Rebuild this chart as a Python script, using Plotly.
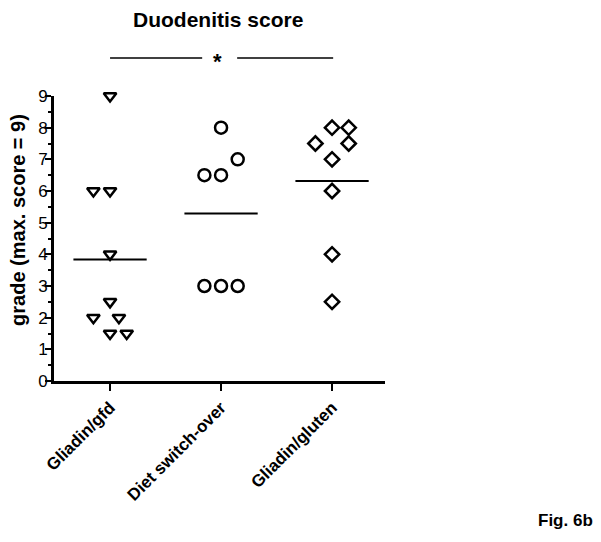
import plotly.graph_objects as go
import numpy as np

# categories and per-group scores
groups = ["Gliadin/gfd", "Diet switch-over", "Gliadin/gluten"]
gfd_scores = [9, 6, 6, 4, 2.5, 2, 2, 1.5, 1.5]
switch_scores = [8, 7, 6.5, 6.5, 3, 3, 3]
gluten_scores = [8, 8, 7.5, 7.5, 7, 6, 4, 2.5]
y_ticks = [0, 1, 2, 3, 4, 5, 6, 7, 8, 9]

# horizontal spread of stacked points (layout only, in category units)
gfd_spread = [0, -0.15, 0, 0, 0, -0.15, 0.08, 0, 0.15]
switch_spread = [0, 0.15, -0.15, 0, -0.15, 0, 0.15]
gluten_spread = [0, 0.15, -0.15, 0.15, 0, 0, 0, 0]

FONT = "Arial, Liberation Sans, sans-serif"
symbols = ["triangle-down-open", "circle-open", "diamond-open"]
sizes = [11, 12, 11]

fig = go.Figure()
all_scores = [gfd_scores, switch_scores, gluten_scores]
all_spread = [gfd_spread, switch_spread, gluten_spread]
for i, (vals, spread) in enumerate(zip(all_scores, all_spread)):
    fig.add_trace(go.Scatter(
        x=[i + s for s in spread], y=vals, mode="markers",
        marker=dict(symbol=symbols[i], size=sizes[i], color="black",
                    line=dict(color="black", width=2.5)),
        showlegend=False, cliponaxis=False))
    m = np.mean(vals)
    fig.add_trace(go.Scatter(
        x=[i - 0.33, i + 0.33], y=[m, m], mode="lines",
        line=dict(color="black", width=2), showlegend=False))

# significance bar with star
sig_y = 1.133
fig.add_shape(type="line", xref="x", yref="paper", x0=0, x1=0.83, y0=sig_y, y1=sig_y,
              line=dict(color="black", width=1.5))
fig.add_shape(type="line", xref="x", yref="paper", x0=1.145, x1=2.01, y0=sig_y, y1=sig_y,
              line=dict(color="black", width=1.5))
fig.add_annotation(x=0.97, xref="x", y=sig_y, yref="paper", text="<b>*</b>", showarrow=False,
                   xanchor="center", yanchor="middle", yshift=-3,
                   font=dict(family=FONT, size=22, color="black"))

fig.add_annotation(x=0.495, xref="paper", y=1.27, yref="paper", text="<b>Duodenitis score</b>",
                   showarrow=False, xanchor="center", yanchor="middle",
                   font=dict(family=FONT, size=21, color="black"))
fig.add_annotation(x=-0.109, xref="paper", y=0.565, yref="paper", text="<b>grade (max. score = 9)</b>",
                   showarrow=False, textangle=-90, xanchor="center", yanchor="middle",
                   font=dict(family=FONT, size=20, color="black"))
fig.add_annotation(x=1.546, xref="paper", y=-0.488, yref="paper", text="<b>Fig. 6b</b>",
                   showarrow=False, xanchor="center", yanchor="middle",
                   font=dict(family=FONT, size=17, color="black"))

# page body adds ~8px offset, so the figure is shrunk to fit without scrollbars
fig.update_layout(
    width=585, height=526,
    margin=dict(l=46, r=208, t=88, b=153),
    plot_bgcolor="white", paper_bgcolor="white",
    font=dict(family=FONT, color="black"),
    xaxis=dict(range=[-0.505, 2.477], tickvals=[0, 1, 2],
               ticktext=["<b>%s</b>" % g for g in groups], tickangle=-45,
               tickfont=dict(size=17), showline=True, linecolor="black", linewidth=3,
               ticks="outside", ticklen=7, tickwidth=2, tickcolor="black",
               showgrid=False, zeroline=False),
    yaxis=dict(range=[0, 9], tickvals=y_ticks, tickfont=dict(size=17),
               showline=True, linecolor="black", linewidth=3,
               ticks="outside", ticklen=6, tickwidth=2, tickcolor="black",
               ticklabelstandoff=-6,
               minor=dict(ticks="outside", ticklen=3, tickwidth=2, dtick=0.5, tickcolor="black"),
               showgrid=False, zeroline=False),
)

fig.write_html("out.html")
